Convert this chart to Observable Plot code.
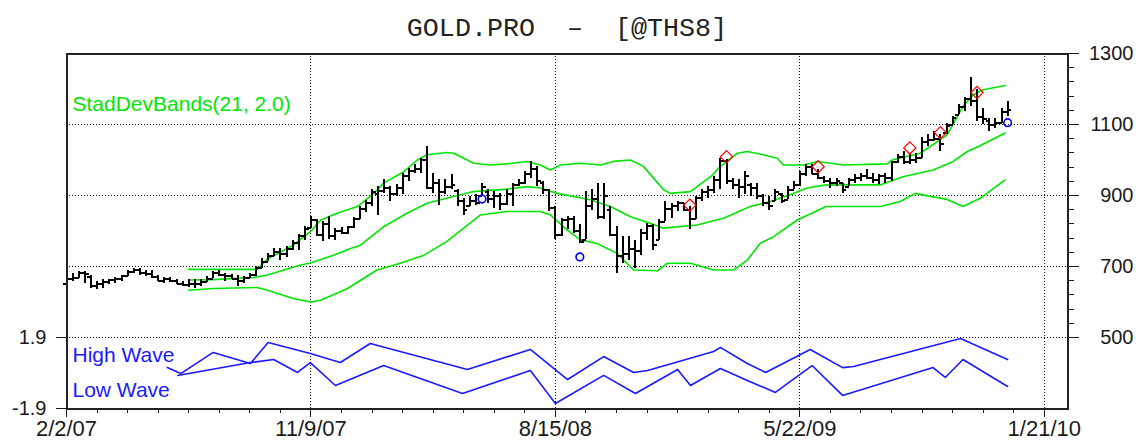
<!DOCTYPE html>
<html><head><meta charset="utf-8">
<script src="https://cdn.jsdelivr.net/npm/d3@7"></script>
<script src="https://cdn.jsdelivr.net/npm/@observablehq/plot@0.6"></script>
<style>
body{margin:0;background:#fff;}
#wrap{position:relative;width:1139px;height:443px;overflow:hidden;background:#fff;}
#wrap svg{position:absolute;left:0;top:0;}
</style></head><body><div id="wrap"></div>
<script>
// ---------- data ----------
const titleText = "GOLD.PRO\u00a0\u00a0–\u00a0\u00a0[@THS8]";
const bandLabel = "StadDevBands(21, 2.0)";
const waveLabels = ["High Wave", "Low Wave"];

const dateTickIdx = [0, 40, 80, 120, 160];
const dateLabels = ["2/2/07", "11/9/07", "8/15/08", "5/22/09", "1/21/10"];
const minorDateIdx = [5,10,15,20,25,30,35,45,50,55,60,65,70,75,85,90,95,100,105,110,115,125,130,135,140,145,150,155];
const priceTicks = [500, 700, 900, 1100, 1300];
const priceMinor = [540,580,620,660,740,780,820,860,940,980,1020,1060,1140,1180,1220,1260];
const priceGrid = [500, 700, 900, 1100];
const waveTicks = [-1.9, 1.9];
const waveTickLabels = ["-1.9", "1.9"];

// weekly bars (index 0 = week of 2/2/07)
const highs = [674,680,685,685,676,657,662,664,669,676,
688,694,694,690,688,676,669,669,664,659,
662,662,664,671,685,688,680,678,676,671,
680,700,723,737,751,751,757,774,789,814,
842,831,826,840,807,810,814,838,869,887,
916,925,944,925,930,963,977,986,1005,1038,
963,944,944,958,916,892,897,902,935,916,
911,906,916,935,944,968,996,982,939,916,
869,836,840,840,817,911,916,935,935,869,
812,784,784,774,803,822,817,831,883,878,
883,878,869,897,916,925,953,1005,1001,949,
944,968,935,935,902,897,916,906,925,939,
968,986,986,972,953,949,949,935,949,958,
963,972,963,958,963,996,1015,1024,1019,1019,
1062,1071,1081,1071,1104,1123,1156,1175,1231,1198,
1146,1118,1118,1144,1165];
const lows = [650,657,666,652,638,634,637,648,652,657,
671,680,676,671,666,657,652,654,648,643,
641,638,645,654,666,671,657,662,645,652,
666,672,694,713,727,718,726,746,746,774,
807,784,770,776,774,789,789,807,831,852,
869,845,906,883,897,902,939,963,963,916,
906,873,902,916,869,845,869,873,897,878,
864,859,873,869,925,930,949,925,902,855,
775,784,803,793,765,775,859,831,831,784,
680,709,718,694,732,774,746,774,826,836,
855,855,803,831,883,892,906,916,930,916,
892,902,897,888,869,859,883,878,888,916,
925,953,958,944,935,920,925,906,925,935,
939,944,935,930,935,939,991,986,986,991,
1005,1038,1052,1024,1071,1100,1128,1137,1151,1109,
1100,1081,1090,1104,1123];
const opens = [652,666,668,682,670,645,652,655,662,664,
674,684,690,682,680,670,660,664,658,652,
648,651,650,656,666,682,676,674,666,660,
668,676,695,714,730,742,735,750,765,785,
808,830,790,820,785,800,795,810,835,862,
880,905,912,920,905,920,955,970,975,1000,
920,935,910,925,912,885,870,885,900,910,
890,900,875,905,930,935,960,975,935,915,
865,790,830,835,800,775,870,890,840,860,
790,730,735,750,745,795,815,775,826,862,
870,878,860,835,893,910,915,945,998,940,
930,925,930,920,900,880,885,905,888,916,
930,960,980,960,950,940,935,935,925,945,
950,955,950,945,955,950,995,1008,995,1000,
1005,1050,1055,1060,1075,1100,1128,1148,1172,1165,
1120,1110,1100,1105,1135];
const closes = [666,668,682,678,645,652,655,662,664,674,
684,690,682,680,670,660,664,658,652,648,
651,650,656,666,682,676,672,666,660,668,
676,695,712,730,742,735,750,765,785,806,
832,790,820,785,800,795,810,835,862,880,
910,912,920,905,920,955,970,975,1000,920,
935,910,925,930,885,860,885,880,925,890,
900,875,905,930,935,960,975,940,915,865,
790,830,835,800,770,870,890,840,900,790,
730,735,750,745,795,815,760,825,862,870,
878,860,835,893,910,915,945,998,940,930,
925,955,920,900,880,870,910,885,915,930,
960,980,960,950,940,935,940,915,945,950,
955,950,945,955,950,995,1008,995,1000,1005,
1050,1055,1060,1045,1095,1118,1148,1172,1165,1120,
1115,1100,1105,1135,1140];

// standard deviation bands: [bar index, price]
const upperBand = [[20,692],[31.2,692],[32.9,721],[37.1,760],[39.9,798],[41.6,831],[44.3,850],[47.6,869],[50.3,906],[51.9,935],[55.2,967],[57.4,1000],[59,1015],[62.2,1021],[63.4,1019],[66.6,991],[69.4,986],[72.1,989],[75.4,996],[77.5,986],[79.2,972],[80.8,986],[84.1,991],[87.4,986],[89.5,996],[92.3,1000],[94.4,982],[97.7,916],[98.8,906],[102.1,911],[105.4,953],[107,982],[109.8,1019],[111.4,1024],[114,1015],[116.3,1005],[117.3,986],[120.6,986],[122.9,996],[127.1,986],[134.3,989],[135.1,1000],[139.7,1019],[144.1,1071],[146.7,1151],[148.4,1184],[150,1198],[153.6,1210]];
const middleBand = [[20,662],[24,663],[30.6,669],[32.9,676],[38.3,704],[39.9,710],[43.7,732],[46.5,751],[48.1,760],[51.9,812],[55.7,850],[59,878],[62.2,892],[66.6,911],[72.1,918],[75.4,925],[77.5,921],[80.3,906],[85.7,888],[89,869],[92.3,840],[95.5,822],[97.7,808],[103.2,817],[107.5,836],[111.9,869],[115.2,883],[118.4,902],[121.2,921],[124.3,930],[133.2,930],[136.9,953],[141.8,972],[145.1,996],[147.4,1024],[149.5,1040],[153.6,1076]];
const lowerBand = [[20,633],[24,638],[31.2,641],[32.9,633],[37.1,610],[39.9,600],[41.6,605],[46,638],[50.8,690],[54.6,709],[58.5,732],[62.2,770],[63.9,793],[67.7,845],[72.1,855],[77.5,855],[79.2,845],[81.9,803],[84.1,775],[86.8,765],[90.1,737],[92.8,690],[96.7,688],[98.3,709],[102.1,709],[105.9,690],[109.1,690],[111.4,718],[113.5,765],[115.7,784],[119.6,831],[124.3,869],[133.2,869],[136.4,883],[138.9,906],[140.9,899],[144.1,889],[146.7,869],[149.5,892],[153.6,944]];

// signal markers
const diamondIdx = [102, 108, 123, 138, 143, 149];
const diamondVal = [873, 1009, 981, 1034, 1077, 1190];
const circleIdx = [68, 84, 154];
const circleVal = [890, 727, 1105];

// wave oscillator: [bar index, value]
const highWave = [[16.5,0.29],[18.7,-0.03],[24,1.10],[30.1,0.51],[33,1.63],[39.9,1.04],[44.8,0.56],[49.7,1.58],[65.6,0.19],[75.9,1.26],[82,-0.35],[87.9,0.88],[92.8,0.03],[95.1,0.13],[105.9,1.15],[107,1.37],[111.4,0.51],[114.4,0.03],[121.7,1.26],[127,0.29],[128.8,0.35],[146.3,1.85],[154,0.72]];
const lowWave = [[18.2,-0.13],[30.1,0.56],[33.9,0.72],[37.8,0.03],[39.9,0.56],[44,-0.67],[51.9,0.40],[64.8,-1.10],[75.9,0.13],[80,-1.63],[87.9,-0.13],[93.1,-1.10],[100,0.19],[102.1,-0.67],[107,0.24],[111.4,-0.40],[116,-1.04],[122,0.40],[127,-1.20],[141.8,0.29],[143.8,-0.24],[146.7,0.72],[154,-0.72]];

// ---------- build ----------
const bars = highs.map((h, i) => ({i, high: h, low: lows[i], open: opens[i], close: closes[i]}));
const diamonds = diamondIdx.map((d, k) => ({i: d, v: diamondVal[k]}));
const circles = circleIdx.map((d, k) => ({i: d, v: circleVal[k]}));

const W = 1139, H = 443;
const GREEN = "#00e600", BLUE = "#1a1aff", INK = "#1a1a1a";
const FONT = "'Liberation Sans', Arial, sans-serif";
const xDom = [0, 163.8];
const crisp = {shapeRendering: "crispEdges"};

const main = Plot.plot({
  width: W, height: H,
  marginLeft: 66, marginRight: 72, marginTop: 53, marginBottom: 35,
  x: {domain: xDom, label: null, axis: null},
  y: {domain: [300, 1300], label: null, axis: null},
  style: {fontFamily: FONT, background: "white", color: INK, overflow: "visible"},
  marks: [
    Plot.ruleY(priceGrid, {stroke: "#000", strokeWidth: 1, strokeDasharray: "1,2", ...crisp}),
    Plot.ruleX(dateTickIdx.slice(1), {stroke: "#000", strokeWidth: 1, strokeDasharray: "1,2", ...crisp}),
    Plot.line(upperBand, {x: d => d[0], y: d => d[1], stroke: GREEN, strokeWidth: 1.6}),
    Plot.line(middleBand, {x: d => d[0], y: d => d[1], stroke: GREEN, strokeWidth: 1.6}),
    Plot.line(lowerBand, {x: d => d[0], y: d => d[1], stroke: GREEN, strokeWidth: 1.6}),
    Plot.ruleX(bars, {x: "i", y1: "low", y2: "high", stroke: "#000", strokeWidth: 2, ...crisp}),
    Plot.link(bars, {x1: d => d.i - 0.6, x2: "i", y1: "open", y2: "open", stroke: "#000", strokeWidth: 2, ...crisp}),
    Plot.link(bars, {x1: "i", x2: d => d.i + 0.6, y1: "close", y2: "close", stroke: "#000", strokeWidth: 2, ...crisp}),
    Plot.dot(diamonds, {x: "i", y: "v", symbol: "diamond2", r: 5.5, stroke: "#ff0000", strokeWidth: 1.2, fill: "none"}),
    Plot.dot(circles, {x: "i", y: "v", symbol: "circle", r: 3.8, stroke: "#0000ff", strokeWidth: 1.6, fill: "none"}),
    Plot.frame({stroke: "#222", strokeWidth: 2, ...crisp}),
    Plot.axisY({anchor: "right", ticks: priceTicks, tickFormat: d => String(d), tickSize: 11, tickPadding: 55, textAnchor: "end", fontSize: 20, label: null, ...crisp}),
    Plot.axisY({anchor: "right", ticks: priceMinor, tickSize: 6, tickFormat: () => "", label: null, ...crisp}),
    Plot.axisX({anchor: "bottom", ticks: dateTickIdx, tickFormat: d => dateLabels[dateTickIdx.indexOf(d)], tickSize: 9, tickPadding: 3, fontSize: 22, label: null, ...crisp}),
    Plot.axisX({anchor: "bottom", ticks: minorDateIdx, tickSize: 5, tickFormat: () => "", label: null, ...crisp}),
    Plot.text([titleText], {text: d => d, frameAnchor: "top", dy: -26, lineAnchor: "middle", fontFamily: "'Liberation Mono', monospace", fontSize: 26.7, fill: "#222"}),
    Plot.text([bandLabel], {text: d => d, frameAnchor: "top-left", dx: 6, dy: 51, lineAnchor: "middle", textAnchor: "start", fontSize: 21, fill: GREEN})
  ]
});

const lower = Plot.plot({
  width: W, height: H,
  marginLeft: 66, marginRight: 72, marginTop: 337, marginBottom: 35,
  x: {domain: xDom, label: null, axis: null},
  y: {domain: [-1.9, 1.9], label: null, axis: null},
  style: {fontFamily: FONT, background: "transparent", color: INK, overflow: "visible"},
  marks: [
    Plot.line(highWave, {x: d => d[0], y: d => d[1], stroke: BLUE, strokeWidth: 1.6}),
    Plot.line(lowWave, {x: d => d[0], y: d => d[1], stroke: BLUE, strokeWidth: 1.6}),
    Plot.axisY({anchor: "left", ticks: waveTicks, tickFormat: d => waveTickLabels[waveTicks.indexOf(d)], tickSize: 10, tickPadding: 10, fontSize: 20, label: null, ...crisp}),
    Plot.text([waveLabels[0]], {text: d => d, frameAnchor: "top-left", dx: 6, dy: 18, lineAnchor: "middle", textAnchor: "start", fontSize: 21, fill: BLUE}),
    Plot.text([waveLabels[1]], {text: d => d, frameAnchor: "top-left", dx: 6, dy: 53, lineAnchor: "middle", textAnchor: "start", fontSize: 21, fill: BLUE})
  ]
});

const wrap = document.getElementById("wrap");
wrap.appendChild(main);
wrap.appendChild(lower);
</script>
</body></html>
